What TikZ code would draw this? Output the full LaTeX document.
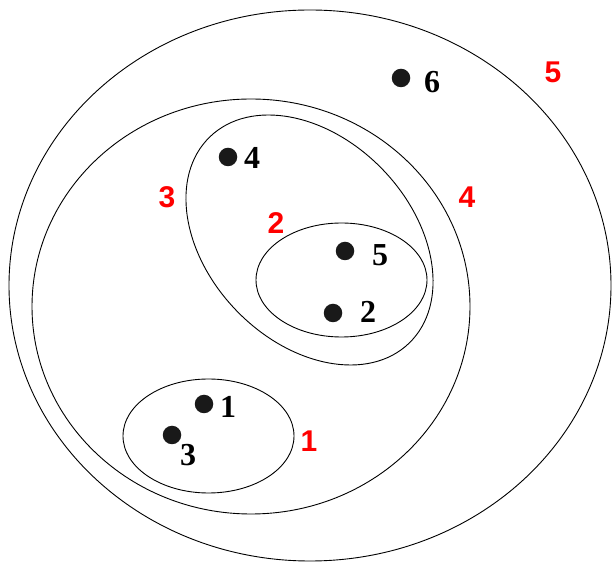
\documentclass[tikz,border=0pt]{standalone}
\usepackage{fontspec}
\setmainfont{Liberation Serif}
\newfontfamily\redsans{Liberation Sans}
\definecolor{lblred}{RGB}{255,0,0}
\begin{document}
\begin{tikzpicture}[x=1pt,y=1pt,
  ring/.style={draw=black,line width=0.9pt},
  dot/.style={circle,fill=black!90,inner sep=0pt,minimum width=18.5pt,minimum height=17pt},
  num/.style={font=\fontsize{32}{32}\selectfont\bfseries,text=black,inner sep=0pt},
  rednum/.style={font=\redsans\fontsize{30}{30}\selectfont\bfseries,text=lblred,inner sep=0pt}]
\useasboundingbox (0,0) rectangle (613,562);
% clusters
\draw[ring] (310,276.5) ellipse [x radius=301, y radius=275.5];
\draw[ring] (251,255.5) ellipse [x radius=219, y radius=207.5];
\draw[ring,rotate around={-46:(309.5,322)}] (309.5,322) ellipse [x radius=143.4, y radius=101.6];
\draw[ring] (341.5,282) ellipse [x radius=85.5, y radius=57];
\draw[ring] (208.5,126) ellipse [x radius=85.5, y radius=57];
% points
\node[dot] (p4) at (228,405) {};
\node[dot] (p5) at (345,311) {};
\node[dot] (p2) at (333,249) {};
\node[dot] (p6) at (401,484) {};
\node[dot] (p1) at (204,158) {};
\node[dot] (p3) at (172,127) {};
\node[num] (l4) at (252,404) {4};
\node[num] (l5) at (380,307) {5};
\node[num] (l2) at (368,250) {2};
\node[num] (l6) at (432,480) {6};
\node[num] (l1) at (228,155) {1};
\node[num] (l3) at (188,107) {3};
% cluster labels
\node[rednum] (c5) at (553,490) {5};
\node[rednum] (c4) at (467,365) {4};
\node[rednum] (c3) at (167,365) {3};
\node[rednum] (c2) at (276,339) {2};
\node[rednum] (c1) at (309,121) {1};
\end{tikzpicture}
\end{document}
